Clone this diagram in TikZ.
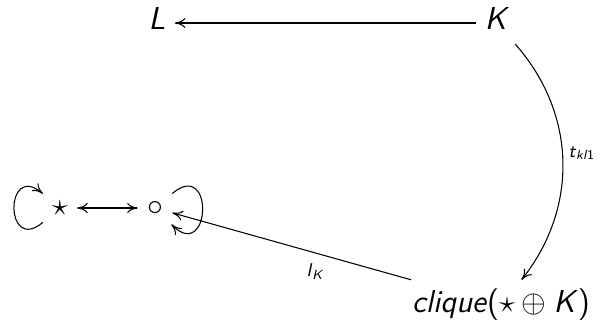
\documentclass[tikz,border=0pt]{standalone}
\usetikzlibrary{arrows.meta}
\newcommand{\sfi}[1]{\textsf{\itshape #1}}
\begin{document}
\begin{tikzpicture}[x=0.3785pt,y=-0.3785pt,
  obj/.style={font=\large, inner sep=0.3333em},
  capobj/.style={obj, text height=0.69em, text depth=0.19em},
  lbl/.style={font=\scriptsize, inner sep=2pt},
  arr/.style={line width=0.4pt, -{To[length=4pt,width=3.8pt]}},
  darr/.style={line width=0.4pt, {To[length=4pt,width=3.8pt]}-{To[length=4pt,width=3.8pt]}}]
\useasboundingbox (0,0) rectangle (601,323);
\node[capobj] (L) at (157,23) {\sfi{L}};
\node[capobj] (K) at (497,23) {\sfi{K}};
\node[obj] (star) at (60,208) {$\star$};
\node[obj] (circ) at (155,208) {$\circ$};
\node[obj] (clique) at (501,305) {\sfi{clique}\textsf{(}$\star\oplus\mbox{\sfi{K}}$\textsf{)}};
\draw[arr] (K) -- (L);
\draw[arr] (K) to[bend left=40] node[lbl, right, pos=0.47] {\sfi{t}$_{\mbox{\tiny\sfi{kl}\textsf{1}}}$} (clique);
\draw[arr] (clique) -- node[lbl, pos=0.4, below=2pt] {\sfi{l}$_{\mbox{\tiny\sfi{K}}}$} (circ);
\draw[darr] (star) -- (circ);
\draw[arr] (star) to[out=220, in=140, looseness=4.5] (star);
\draw[arr] (circ) to[out=40, in=-45, looseness=4.6] (circ);
\end{tikzpicture}
\end{document}
